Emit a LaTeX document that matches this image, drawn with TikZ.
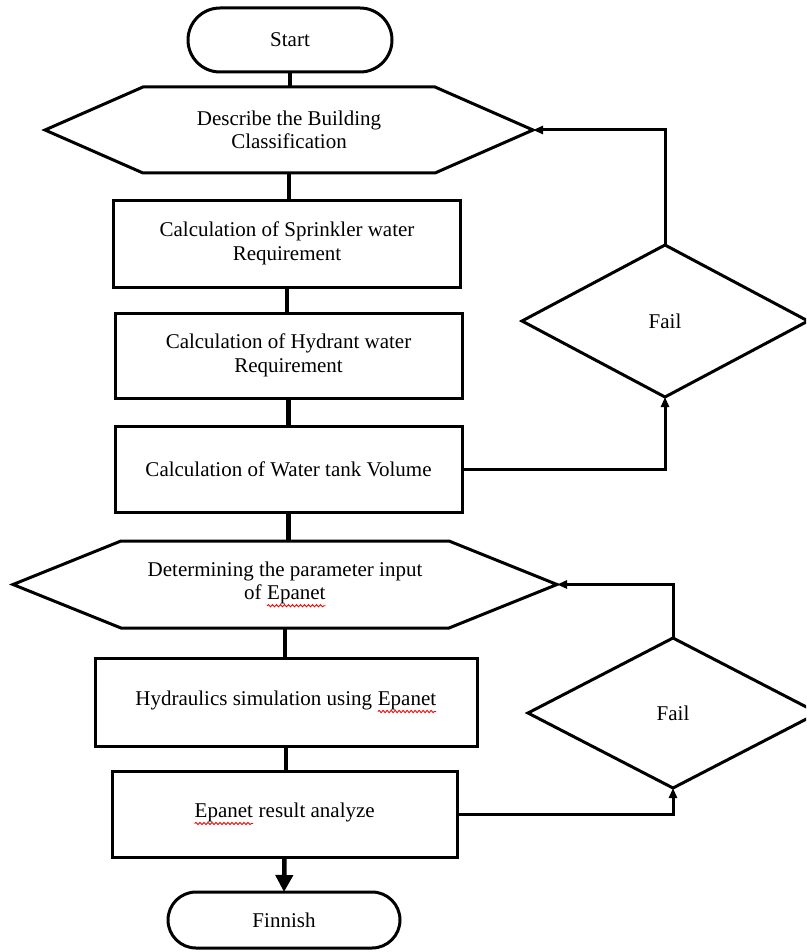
\documentclass[tikz,border=0pt]{standalone}
\usepackage{fontspec}
\setmainfont{Liberation Serif}
\usetikzlibrary{shapes.geometric,shapes.misc,arrows.meta,calc,decorations.pathmorphing}
\newcommand\epwave[1]{\tikz[baseline=(ew.base)]{\node[rectangle,inner sep=0pt,outer sep=0pt,draw=none,fill=none,minimum width=0pt,minimum height=0pt](ew){#1};\draw[red,line width=0.9pt,decorate,decoration={snake,amplitude=1.1pt,segment length=4pt}]([yshift=-1.5pt]ew.south west)--([yshift=-1.5pt]ew.south east);}}
\tikzset{
  shapeline/.style={line width=3pt, line join=miter},
  txt/.style={font=\fontsize{21}{23.5}\selectfont, align=center, inner sep=0pt, outer sep=0pt},
  procbox/.style={txt, draw, shapeline, rectangle},
  termbox/.style={txt, draw, shapeline, rounded rectangle},
  hexbox/.style={txt, rectangle},
  decbox/.style={txt, draw, shapeline, diamond},
  mainline/.style={line width=4.5pt},
  sideline/.style={line width=3pt},
  smalltip/.style={-{Triangle[length=10pt,width=8pt]}},
  bigtip/.style={-{Triangle[length=17pt,width=17pt]}}
}
\begin{document}
\begin{tikzpicture}[x=1pt,y=-1pt]
\useasboundingbox (0,0) rectangle (806,952);
\clip (0,0) rectangle (806,952);
\fill[white] (0,0) rectangle (806,952);

% main column
\node[termbox, minimum width=204pt, minimum height=64pt] (start) at (290,40) {Start};
\node[hexbox, minimum width=488pt, minimum height=86pt] (hexA) at (289,130) {Describe the Building\\Classification};
\draw[shapeline] ($(hexA.north west)+(98,0)$) -- ($(hexA.north east)+(-98,0)$) -- (hexA.east)
  -- ($(hexA.south east)+(-98,0)$) -- ($(hexA.south west)+(98,0)$) -- (hexA.west) -- cycle;
\node[procbox, minimum width=347pt, minimum height=87pt] (b1) at (287,243.5) {Calculation of Sprinkler water\\Requirement};
\node[procbox, minimum width=347pt, minimum height=85pt] (b2) at (288.5,355.5) {Calculation of Hydrant water\\Requirement};
\node[procbox, minimum width=347pt, minimum height=86pt] (b3) at (288.5,469) {Calculation of Water tank Volume};
\node[hexbox, minimum width=544pt, minimum height=87pt] (hexB) at (285,584.5) {Determining the parameter input\\of \epwave{Epanet}};
\draw[shapeline] ($(hexB.north west)+(108,0)$) -- ($(hexB.north east)+(-108,0)$) -- (hexB.east)
  -- ($(hexB.south east)+(-108,0)$) -- ($(hexB.south west)+(108,0)$) -- (hexB.west) -- cycle;
\node[procbox, minimum width=382pt, minimum height=88pt] (b4) at (286,702) {Hydraulics simulation using \epwave{Epanet}};
\node[procbox, minimum width=345pt, minimum height=86pt] (b5) at (284.5,814) {\epwave{Epanet} result analyze};
\node[termbox, minimum width=232pt, minimum height=56pt] (fin) at (284,920) {Finnish};

% decisions
\node[decbox, minimum width=286pt, minimum height=152pt] (dA) at (665,321) {Fail};
\node[decbox, minimum width=290pt, minimum height=150pt] (dB) at (673,713) {Fail};

% main connectors
\draw[mainline] (start.south) -- (start.south |- hexA.north);
\draw[mainline] (hexA.south) -- (hexA.south |- b1.north);
\draw[mainline] (b1.south) -- (b1.south |- b2.north);
\draw[mainline] (b2.south) -- (b2.south |- b3.north);
\draw[mainline] (b3.south) -- (b3.south |- hexB.north);
\draw[mainline] (hexB.south) -- (hexB.south |- b4.north);
\draw[mainline] (b4.south) -- (b4.south |- b5.north);
\draw[mainline, bigtip] (b5.south) -- (fin.north);

% feedback loops
\draw[sideline, smalltip] (b3.east) -| (dA.south);
\draw[sideline, smalltip] (dA.north) |- (hexA.east);
\draw[sideline, smalltip] (b5.east) -| (dB.south);
\draw[sideline, smalltip] (dB.north) |- (hexB.east);
\end{tikzpicture}
\end{document}
